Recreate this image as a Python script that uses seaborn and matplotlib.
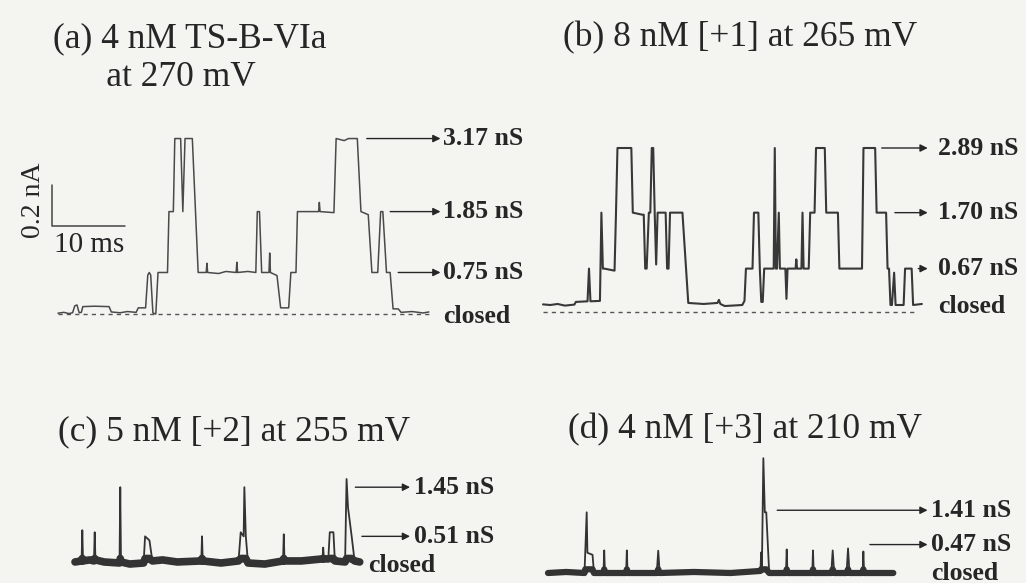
import numpy as np
import matplotlib
matplotlib.use("Agg")
import matplotlib.pyplot as plt
import seaborn as sns

# ---------------- recordings ----------------
# (a) 4 nM TS-B-VIa at 270 mV
V_A = 270                      # mV
G_A = [0.75, 1.85, 3.17]       # nS, conductance levels
A1, A2, A3 = (g * V_A for g in G_A)   # pA
t_a = [0.0, 0.8, 1.5, 2.0, 2.3, 2.6, 2.9, 3.2, 3.4, 5.0, 7.0, 7.3, 8.5, 9.5, 10.7,
       11.0, 12.0, 12.3, 12.5, 12.7, 13.0, 13.4, 13.7, 15.0, 15.2, 15.8, 16.0, 16.8,
       17.1, 17.4, 18.4, 19.2, 20.3, 20.4, 20.5, 22.0, 23.0, 24.4, 24.5, 24.6, 26.0,
       27.1, 27.3, 27.6, 27.9, 28.9, 29.0, 29.1, 30.0, 30.5, 31.6, 31.9, 32.6, 32.8,
       35.7, 35.8, 35.9, 37.8, 38.1, 39.2, 39.8, 41.0, 41.5, 42.5, 43.0, 43.8, 44.2,
       44.5, 45.0, 45.5, 45.9, 46.6, 47.0, 48.5, 50.0, 50.8]
i_a = [4, 8, 2, 6, 40, 44, 6, 8, 36, 38, 36, 10, 6, 12, 8,
       30, 30, 190, A1, 190, 5, 0, A1, A1, A2, A2, A3, A3,
       A2, A3, A3, A1, A1, A1 + 45, A1, A1 - 5, A1 + 5, A1, A1 + 50, A1, A1 + 5,
       A1, A2, A2, A1, A1, A1 + 95, A1, A1 - 15, 30, 30, A1, A1, A2,
       A2, A2 + 45, A2, A2 - 5, A3, A3 - 10, A3, A3, A2, A2 - 15, A1, A1, A2,
       A2, A1, A1, 25, 25, 8, 12, 5, 10]

# (b) 8 nM [+1] at 265 mV
V_B = 265
G_B = [0.67, 1.70, 2.89]
B1, B2, B3 = (g * V_B for g in G_B)
t_b = [0.0, 1.0, 2.0, 3.0, 4.3, 4.5, 6.1, 6.3, 6.5, 7.8, 8.0, 8.2, 8.4, 9.8, 10.0,
       10.2, 12.1, 12.3, 13.6, 13.8, 14.0, 14.2, 14.5, 14.7, 14.9, 15.1, 15.3, 15.5,
       15.7, 16.6, 16.8, 17.0, 17.2, 17.4, 19.1, 19.9, 22.0, 23.9, 24.1, 24.3, 24.9,
       27.3, 27.6, 27.8, 28.7, 28.9, 29.5, 29.7, 29.9, 30.1, 30.3, 31.6, 31.75, 31.9,
       32.05, 32.3, 32.45, 32.6, 33.2, 33.35, 33.5, 34.6, 34.7, 34.8, 35.4, 35.55,
       35.7, 36.4, 36.6, 37.2, 37.4, 38.6, 38.8, 40.4, 40.6, 43.7, 43.9, 45.5, 45.7,
       47.0, 47.2, 47.4, 47.6, 47.8, 48.1, 48.3, 49.4, 49.6, 50.5, 50.7, 51.9]
i_b = [3, 0, 5, -3, 2, 15, 18, B1, 18, 20, B2, B1, B1, B1 - 10, B2,
       B3, B3, B2, B2 - 10, B2 - 10, B1, B1, B2, B2, B3, B3, B2, B1 + 20,
       B2, B2, B2, B1, B1, B2, B2, 10, 5, 10, 25, 5, -5,
       0, 20, B1, B1, B2, B2, B1, 15, 15, B1, B1, B3, B1,
       B1, B2, B1, B1, B1, 30, B1, B1, B1 + 45, B1, B1, B2,
       B1, B1, B2, B2, B3, B3, B2, B2, B1, B1, B3, B3, B2,
       B2, B1, B1, 0, 0, B1 - 20, 0, 0, B1, B1, 0, 5]

# (c) 5 nM [+2] at 255 mV
V_C = 255
G_C = [0.51, 1.45]
C1, C2 = (g * V_C for g in G_C)
t_c = [0.0, 0.9, 1.0, 1.1, 2.0, 2.6, 2.7, 2.8, 4.0, 6.1, 6.2, 6.3, 7.5, 9.4, 9.6,
       10.2, 10.6, 12.0, 14.0, 17.3, 17.4, 17.5, 20.0, 22.4, 22.7, 23.1, 23.2, 23.4,
       23.7, 26.0, 28.5, 28.6, 28.7, 31.0, 33.9, 34.0, 34.1, 34.7, 34.9, 35.4, 35.6,
       37.0, 37.2, 37.4, 37.9, 38.3, 39.0]
i_c = [5, 10, 160, 10, 15, 10, 150, 15, 5, 0, C2, 5, -5, 0, C1,
       C1 - 20, 10, 15, 5, 10, C1, 10, 0, 10, 150, C1, C2, C1,
       0, -5, 10, 140, 10, 10, 20, 75, 20, 20, 150, 150, 10,
       5, C2 + 40, 270, C1, 10, 5]

# (d) 4 nM [+3] at 210 mV
V_D = 210
G_D = [0.47, 1.41]
D1, D2 = (g * V_D for g in G_D)
t_d = [0.0, 2.5, 5.0, 5.1, 5.3, 5.4, 6.1, 6.3, 7.6, 7.7, 7.8, 10.7, 10.8, 10.9,
       14.9, 15.1, 15.3, 20.0, 25.0, 29.1, 29.2, 29.3, 29.5, 29.7, 29.9, 30.3, 32.6,
       32.7, 32.8, 36.2, 36.3, 36.4, 38.8, 39.0, 39.2, 40.9, 41.1, 41.3, 43.1, 43.2,
       43.3, 47.3]
i_d = [0, 5, 0, D1, D2, D1, D1 - 10, 0, 0, 110, 0, 0, 110, 0,
       0, D1 + 10, 0, 5, 0, 10, 100, 20, 560, D2, D2, 0, 0,
       115, 0, 0, 110, 0, 0, 110, 0, 0, 120, 0, 0, 105,
       0, 0]

TITLES = ["(a) 4 nM TS-B-VIa\n      at 270 mV", "(b) 8 nM [+1] at 265 mV",
          "(c) 5 nM [+2] at 255 mV", "(d) 4 nM [+3] at 210 mV"]
SCALE_T = 10     # ms
SCALE_I = 200    # pA

# ---------------- drawing ----------------
sns.set_theme(style="white")
plt.rcParams["font.family"] = ["Liberation Serif", "DejaVu Serif"]

W, H = 1026, 583
PX_MS, PX_PA = 7.3, 0.205
BG = "#f4f4f1"
INK = "#262626"

fig = plt.figure(figsize=(W / 100, H / 100), dpi=100, facecolor=BG)


def panel(x0, y0):
    """Full-figure axes whose (0 ms, 0 pA) sits at pixel (x0, y0)."""
    ax = fig.add_axes([0, 0, 1, 1])
    ax.set_xlim(-x0 / PX_MS, (W - x0) / PX_MS)
    ax.set_ylim(-(H - y0) / PX_PA, y0 / PX_PA)
    ax.axis("off")
    ax.patch.set_alpha(0)
    return ax


def trace(ax, t, i, color, lw, band=None):
    sns.lineplot(x=t, y=i, ax=ax, sort=False, estimator=None, color=color,
                 linewidth=lw, legend=False)
    if band is not None:
        sns.lineplot(x=t, y=np.minimum(i, band[0]), ax=ax, sort=False,
                     estimator=None, color=color, linewidth=band[1], legend=False)


def level_labels(ax, levels, gs, arrows, x_text, closed_y, closed_x=None, lift=None):
    lift = lift or [0] * len(levels)
    for lev, g, (x_from, x_to), dy in zip(levels, gs, arrows, lift):
        y = lev + dy
        ax.annotate("", xy=(x_to, y), xytext=(x_from, y),
                    arrowprops=dict(arrowstyle="-|>", color=INK, lw=1.0,
                                    mutation_scale=11, shrinkA=0, shrinkB=0))
        ax.text(x_text, y, f"{g:.2f} nS", fontsize=18.5, fontweight="bold",
                color=INK, va="center", ha="left")
    ax.text(x_text if closed_x is None else closed_x, closed_y, "closed",
            fontsize=18.5, fontweight="bold", color=INK, va="center", ha="left")


# (a)
ax = panel(58, 314)
ax.hlines(0, t_a[0], t_a[-1], color="#555555", lw=1.0, linestyles=(0, (3, 3)))
trace(ax, t_a, i_a, "#4a4a4a", 1.1)
level_labels(ax, [A3, A2, A1], G_A[::-1], [(42.3, 52.4), (45.5, 52.4), (46.6, 52.4)],
             52.8, -12)
bx, by = -0.8, 429
ax.plot([bx, bx, bx + SCALE_T], [by + SCALE_I, by, by], color="#444444", lw=1.1)
ax.text(bx + SCALE_T / 2 + 0.1, by - 90, "10 ms", fontsize=21, color=INK,
        ha="center", va="center")
ax.text(bx - 2.6, by + SCALE_I / 2 + 25, "0.2 nA", fontsize=20, color=INK,
        rotation=90, ha="center", va="center")

# (b)
ax = panel(543, 305)
ax.hlines(-34, t_b[0], t_b[-1] - 0.6, color="#555555", lw=1.0, linestyles=(0, (3, 3)))
trace(ax, t_b, i_b, "#383838", 1.5)
level_labels(ax, [B3, B2, B1], G_B[::-1], [(46.4, 52.7), (48.2, 52.7), (51.4, 52.7)],
             54.1, -8)

# (c)
ax = panel(75, 563)
trace(ax, t_c, i_c, "#333333", 1.3, band=(22, 5.5))
level_labels(ax, [C2, C1], G_C[::-1], [(38.4, 45.9), (39.3, 45.9)], 46.4, -12,
             closed_x=40.2)

# (d)
ax = panel(548, 573)
trace(ax, t_d, i_d, "#333333", 1.3, band=(18, 4.5))
level_labels(ax, [D2, D1], G_D[::-1], [(31.4, 52.0), (44.1, 52.0)], 52.5, -2,
             lift=[10, 40])

# panel titles
title_pos = [(53, 58), (563, 38), (58, 432), (568, 430)]
for (px, py), txt in zip(title_pos, TITLES):
    fig.text(px / W, 1 - py / H, txt, fontsize=25.5, color=INK, ha="left",
             va="center", linespacing=1.25)

fig.savefig("out.png", dpi=100, facecolor=BG)
